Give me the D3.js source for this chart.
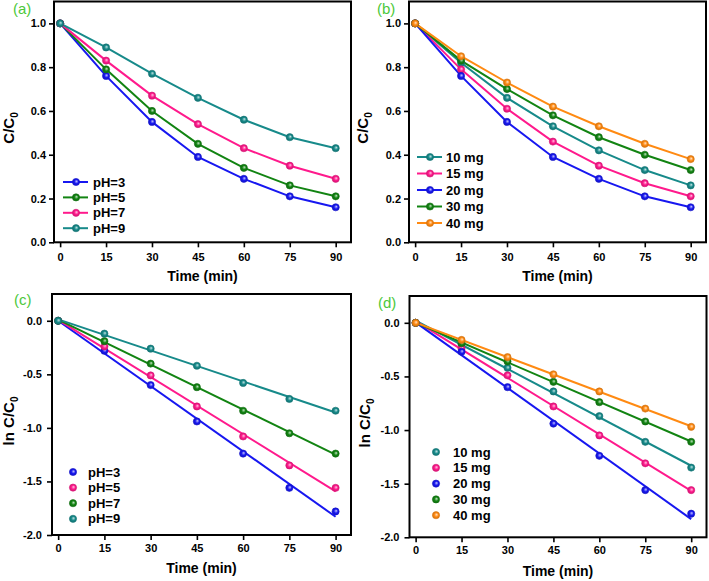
<!DOCTYPE html>
<html><head><meta charset="utf-8">
<script src="https://cdn.jsdelivr.net/npm/d3@7"></script>
<style>body{margin:0;background:#fff} svg{display:block} text{font-family:"Liberation Sans",Arial,sans-serif}</style>
</head><body><svg id="chart" width="709" height="581"></svg>
<script>
// ---------- data ----------
const times = [0, 15, 30, 45, 60, 75, 90];
const xTicks = [0, 15, 30, 45, 60, 75, 90];
const yTicksAB = [0, 0.2, 0.4, 0.6, 0.8, 1.0];
const yTicksCD = [0, -0.5, -1.0, -1.5, -2.0];

// (a) effect of pH, C/C0
const a_pH3 = [1.0, 0.76, 0.55, 0.39, 0.29, 0.21, 0.16];
const a_pH5 = [1.0, 0.79, 0.60, 0.45, 0.34, 0.26, 0.21];
const a_pH7 = [1.0, 0.83, 0.67, 0.54, 0.43, 0.35, 0.29];
const a_pH9 = [1.0, 0.89, 0.77, 0.66, 0.56, 0.48, 0.43];
const a_labels = ["pH=3", "pH=5", "pH=7", "pH=9"];

// (b) effect of dose, C/C0
const b_10 = [1.0, 0.82, 0.66, 0.53, 0.42, 0.33, 0.26];
const b_15 = [1.0, 0.79, 0.61, 0.46, 0.35, 0.27, 0.21];
const b_20 = [1.0, 0.76, 0.55, 0.39, 0.29, 0.21, 0.16];
const b_30 = [1.0, 0.83, 0.70, 0.58, 0.48, 0.40, 0.33];
const b_40 = [1.0, 0.85, 0.73, 0.62, 0.53, 0.45, 0.38];
const b_labels = ["10 mg", "15 mg", "20 mg", "30 mg", "40 mg"];

// (c) ln C/C0 vs pH
const c_pH3 = [0, -0.28, -0.60, -0.94, -1.24, -1.56, -1.78];
const c_pH5 = [0, -0.24, -0.51, -0.80, -1.08, -1.35, -1.56];
const c_pH7 = [0, -0.19, -0.40, -0.62, -0.84, -1.05, -1.24];
const c_pH9 = [0, -0.12, -0.26, -0.42, -0.58, -0.73, -0.84];
const c_labels = ["pH=3", "pH=5", "pH=7", "pH=9"];

// (d) ln C/C0 vs dose
const d_10 = [0, -0.20, -0.42, -0.64, -0.87, -1.11, -1.35];
const d_15 = [0, -0.24, -0.49, -0.78, -1.05, -1.31, -1.56];
const d_20 = [0, -0.27, -0.60, -0.94, -1.24, -1.56, -1.78];
const d_30 = [0, -0.19, -0.36, -0.55, -0.74, -0.92, -1.11];
const d_40 = [0, -0.16, -0.32, -0.48, -0.64, -0.80, -0.97];
const d_labels = ["10 mg", "15 mg", "20 mg", "30 mg", "40 mg"];

// ---------- styles ----------
const COL = {blue: "#1717f0", green: "#128412", pink: "#ff1a8c", teal: "#178a8a", orange: "#ff8a12"};
const labelGreen = "#4cc83a";

const svg = d3.select("#chart");
const defs = svg.append("defs");
Object.entries(COL).forEach(([k, c]) => {
  const g = defs.append("radialGradient").attr("id", "grad-" + k)
    .attr("cx", "50%").attr("cy", "50%").attr("r", "50%").attr("fx", "60%").attr("fy", "40%");
  g.append("stop").attr("offset", "0%").attr("stop-color", d3.interpolateRgb(c, "#fff")(0.75));
  g.append("stop").attr("offset", "55%").attr("stop-color", c);
  g.append("stop").attr("offset", "100%").attr("stop-color", d3.color(c).darker(0.6));
});

function marker(sel, x, y, key) {
  sel.append("circle").attr("cx", x).attr("cy", y).attr("r", 3.6)
    .attr("fill", `url(#grad-${key})`).attr("stroke", d3.color(COL[key]).darker(0.4)).attr("stroke-width", 0.6);
}

function linfit(xs, ys) {
  const mx = d3.mean(xs), my = d3.mean(ys);
  let sxy = 0, sxx = 0;
  xs.forEach((x, i) => { sxy += (x - mx) * (ys[i] - my); sxx += (x - mx) * (x - mx); });
  const m = sxy / sxx;
  return {m, b: my - m * mx};
}

function panel(cfg) {
  const x = d3.scaleLinear().domain([-2, 95]).range([cfg.left, cfg.right]);
  const y = d3.scaleLinear().domain(cfg.ydom).range([cfg.bottom, cfg.top]);
  const g = svg.append("g");

  // series
  cfg.series.forEach(s => {
    if (cfg.fit) {
      const f = linfit(times, s.values);
      g.append("line").attr("x1", x(0)).attr("y1", y(f.b)).attr("x2", x(90)).attr("y2", y(f.b + f.m * 90))
        .attr("stroke", COL[s.color]).attr("stroke-width", 2);
    } else {
      const line = d3.line().x((d, i) => x(times[i])).y(d => y(d));
      g.append("path").attr("d", line(s.values)).attr("fill", "none")
        .attr("stroke", COL[s.color]).attr("stroke-width", 2);
    }
  });
  cfg.series.forEach(s => {
    s.values.forEach((v, i) => marker(g, x(times[i]), y(v), s.color));
  });

  // axes
  const xa = g.append("g").attr("transform", `translate(0,${cfg.bottom})`)
    .call(d3.axisBottom(x).tickValues(xTicks).tickSize(5).tickPadding(cfg.xpad).tickFormat(d3.format("d")));
  const ya = g.append("g").attr("transform", `translate(${cfg.left},0)`)
    .call(d3.axisLeft(y).tickValues(cfg.yticks).tickSize(5).tickPadding(cfg.ypad).tickFormat(d3.format(".1f")));
  [xa, ya].forEach(a => {
    a.select(".domain").remove();
    a.selectAll(".tick line").attr("stroke", "#000").attr("stroke-width", 1.6);
    a.selectAll(".tick text").attr("font-family", "'Liberation Sans', Arial, sans-serif")
      .attr("font-size", 11).attr("font-weight", "bold").attr("fill", "#000");
  });
  ya.selectAll(".tick text").text(d => d === 0 ? "0.0" : d3.format(".1f")(d).replace("−", "-"));

  // frame
  g.append("rect").attr("x", cfg.left).attr("y", cfg.top).attr("width", cfg.right - cfg.left)
    .attr("height", cfg.bottom - cfg.top).attr("fill", "none").attr("stroke", "#000").attr("stroke-width", 2);

  // titles
  g.append("text").attr("x", (cfg.left + cfg.right) / 2).attr("y", cfg.xtitleY).attr("text-anchor", "middle")
    .attr("font-size", 14).attr("font-weight", "bold").text("Time (min)");
  const yt = g.append("text").attr("transform", `translate(${cfg.ytitleX},${cfg.ytitleY}) rotate(-90)`)
    .attr("text-anchor", "middle").attr("font-size", 15).attr("font-weight", "bold");
  yt.append("tspan").text(cfg.ytitle);
  yt.append("tspan").attr("font-size", 10).attr("dy", 4).text("0");

  g.append("text").attr("x", cfg.labX).attr("y", cfg.labY).attr("font-size", 15).attr("fill", labelGreen).text(cfg.label);

  // legend
  cfg.series.forEach((s, i) => {
    const ly = cfg.leg.y + i * cfg.leg.dy;
    if (!cfg.fit) {
      g.append("line").attr("x1", cfg.leg.x - 13).attr("x2", cfg.leg.x + 12).attr("y1", ly).attr("y2", ly)
        .attr("stroke", COL[s.color]).attr("stroke-width", 2);
    }
    marker(g, cfg.leg.x, ly, s.color);
    g.append("text").attr("x", cfg.leg.tx).attr("y", ly).attr("dy", "0.36em").attr("font-size", 13)
      .attr("font-weight", "bold").text(s.label);
  });
}

panel({
  left: 54, right: 351, top: 1.5, bottom: 242.3, ydom: [0, 1.1], yticks: yTicksAB, xpad: 6, ypad: 3,
  fit: false, label: "(a)", labX: 13, labY: 14, ytitle: "C/C", ytitleX: 14, ytitleY: 128, xtitleY: 281,
  leg: {x: 76, y: 182, dy: 15.4, tx: 93},
  series: [
    {label: a_labels[0], values: a_pH3, color: "blue"},
    {label: a_labels[1], values: a_pH5, color: "green"},
    {label: a_labels[2], values: a_pH7, color: "pink"},
    {label: a_labels[3], values: a_pH9, color: "teal"}
  ]
});

panel({
  left: 409, right: 706, top: 1.5, bottom: 242.3, ydom: [0, 1.1], yticks: yTicksAB, xpad: 6, ypad: 3,
  fit: false, label: "(b)", labX: 377, labY: 14, ytitle: "C/C", ytitleX: 368, ytitleY: 128, xtitleY: 281,
  leg: {x: 430, y: 157, dy: 16.5, tx: 446},
  series: [
    {label: b_labels[0], values: b_10, color: "teal"},
    {label: b_labels[1], values: b_15, color: "pink"},
    {label: b_labels[2], values: b_20, color: "blue"},
    {label: b_labels[3], values: b_30, color: "green"},
    {label: b_labels[4], values: b_40, color: "orange"}
  ]
});

panel({
  left: 52, right: 351, top: 294, bottom: 535, ydom: [-2, 0.25], yticks: yTicksCD, xpad: 4, ypad: 5,
  fit: true, label: "(c)", labX: 14, labY: 305, ytitle: "ln C/C", ytitleX: 14, ytitleY: 421, xtitleY: 573,
  leg: {x: 73, y: 472, dy: 15.6, tx: 88},
  series: [
    {label: c_labels[0], values: c_pH3, color: "blue"},
    {label: c_labels[1], values: c_pH5, color: "pink"},
    {label: c_labels[2], values: c_pH7, color: "green"},
    {label: c_labels[3], values: c_pH9, color: "teal"}
  ]
});

panel({
  left: 409.5, right: 706.5, top: 296, bottom: 537.3, ydom: [-2, 0.25], yticks: yTicksCD, xpad: 4, ypad: 5,
  fit: true, label: "(d)", labX: 378, labY: 308, ytitle: "ln C/C", ytitleX: 370, ytitleY: 423, xtitleY: 576,
  leg: {x: 436, y: 452, dy: 15.8, tx: 453},
  series: [
    {label: d_labels[0], values: d_10, color: "teal"},
    {label: d_labels[1], values: d_15, color: "pink"},
    {label: d_labels[2], values: d_20, color: "blue"},
    {label: d_labels[3], values: d_30, color: "green"},
    {label: d_labels[4], values: d_40, color: "orange"}
  ]
});
</script></body></html>
